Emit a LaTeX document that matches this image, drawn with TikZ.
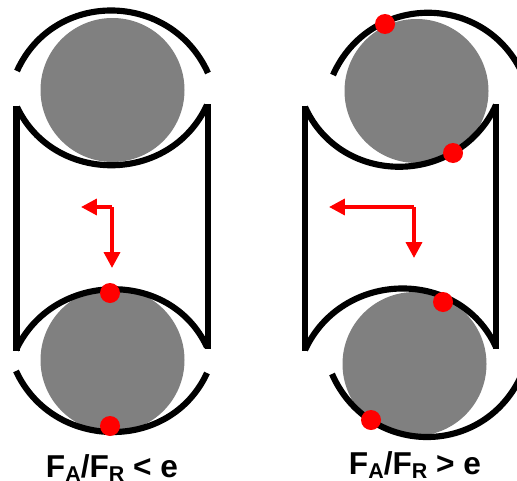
\documentclass[tikz,border=0pt]{standalone}
\usepackage{fontspec}
\setmainfont{Liberation Sans}
\usetikzlibrary{arrows.meta}
\tikzset{
  ring/.style={line width=3.5pt},
  ball/.style={fill=black!50!white},
  contact/.style={fill=red},
  load/.style={red,line width=2.1pt,-{Triangle[length=9pt,width=9pt]}},
  caption/.style={font=\bfseries\fontsize{18pt}{19pt}\selectfont}
}
\newcommand{\lowtxt}[1]{\raisebox{-2.2pt}{\fontsize{12.2pt}{13pt}\selectfont #1}}
\begin{document}
\begin{tikzpicture}[x=0.02cm,y=-0.02cm]
\useasboundingbox (0,0) rectangle (517,480);
% left bearing
\fill[ball] (112.5,90) circle (72);
\fill[ball] (112.5,360) circle (72);
\draw[ring] (17,71) .. controls (54,-11) and (171,-9) .. (208,73);
\draw[ring] (17,107) .. controls (54,185) and (170,185) .. (207,105);
\draw[ring] (16,350) .. controls (53,271) and (170,268) .. (207,347);
\draw[ring] (16,371) .. controls (53,451) and (170,453) .. (207,373);
\draw[ring] (16.5,106) -- (16.5,351);
\draw[ring] (208,104) -- (208,349);
\fill[contact] (110,293) circle (10);
\fill[contact] (110,426) circle (10);
\coordinate (cornerA) at (112,207);
\coordinate (tipAx) at (81,207);
\coordinate (tipAr) at (112,268);
\draw[load] (cornerA) -- (tipAx);
\draw[load] (cornerA) -- (tipAr);
\node[caption] (labelA) at (112,468) {F\lowtxt{A}/F\lowtxt{R} < e};
% right bearing
\fill[ball] (416.5,91) circle (72);
\fill[ball] (414.5,364) circle (72);
\begin{scope}
\clip (300,0) rectangle (517,480);
\draw[ring] (333,75) .. controls (370,-8) and (486,-8) .. (523,75);
\draw[ring] (332,374) .. controls (369,458) and (485,458) .. (522,374);
\end{scope}
\draw[ring] (305,107) .. controls (342,188) and (459,186) .. (496,105);
\draw[ring] (305,350) .. controls (342,270) and (459,267) .. (496,347);
\draw[ring] (305,106) -- (305,351);
\draw[ring] (496,104) -- (496,349);
\fill[contact] (385,24) circle (10);
\fill[contact] (453,153) circle (10);
\fill[contact] (443,302) circle (10);
\fill[contact] (371,420) circle (10);
\coordinate (cornerB) at (414,207);
\coordinate (tipBx) at (329,207);
\coordinate (tipBr) at (414,258);
\draw[load] (cornerB) -- (tipBx);
\draw[load] (cornerB) -- (tipBr);
\node[caption] (labelB) at (415,465) {F\lowtxt{A}/F\lowtxt{R} > e};
\end{tikzpicture}
\end{document}
